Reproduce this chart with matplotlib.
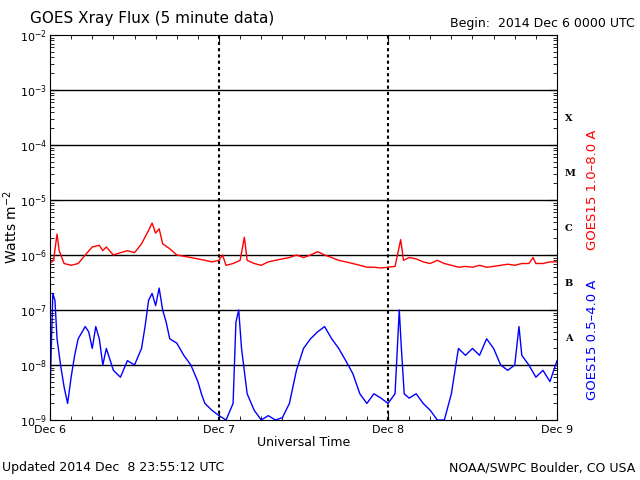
import matplotlib
matplotlib.use("Agg")
import matplotlib.pyplot as plt
from matplotlib.ticker import LogLocator, NullFormatter, MultipleLocator

# hours since 2014 Dec 6 00:00 UTC
long_t = [0,0.5,1,1.3,2,3,4,5,6,7,7.5,8,9,10,11,12,13,14,14.5,15,15.5,16,17,18,19,20,21,22,23,24,24.5,25,26,27,27.6,28,29,30,31,32,33,34,35,36,37,38,39,40,41,42,43,44,45,46,47,48,49,49.8,50.2,51,52,53,54,55,56,57,58,59,60,61,62,63,64,65,66,67,68,68.6,69,70,71,72]
long_v = [7e-7,8e-7,2.4e-6,1.2e-6,7e-7,6.5e-7,7e-7,1e-6,1.4e-6,1.5e-6,1.2e-6,1.4e-6,1e-6,1.1e-6,1.2e-6,1.1e-6,1.6e-6,2.8e-6,3.8e-6,2.5e-6,3e-6,1.6e-6,1.3e-6,1e-6,9.5e-7,9e-7,8.5e-7,8e-7,7.5e-7,8e-7,1e-6,6.5e-7,7e-7,8e-7,2.1e-6,8e-7,7e-7,6.5e-7,7.5e-7,8e-7,8.5e-7,9e-7,1e-6,9e-7,1e-6,1.15e-6,1e-6,9e-7,8e-7,7.5e-7,7e-7,6.5e-7,6e-7,6e-7,5.8e-7,6e-7,6.2e-7,1.9e-6,8e-7,9e-7,8.5e-7,7.5e-7,7e-7,8e-7,7e-7,6.5e-7,6e-7,6.2e-7,6e-7,6.5e-7,6e-7,6.2e-7,6.5e-7,6.8e-7,6.5e-7,7e-7,7e-7,9e-7,7e-7,7e-7,7.5e-7,7.5e-7]

short_t = [0,0.4,0.7,1,1.5,2,2.5,3,3.5,4,5,5.5,6,6.5,7,7.5,8,9,10,11,12,13,13.5,14,14.5,15,15.5,16,16.5,17,18,19,20,21,21.5,22,23,24,25,26,26.4,26.8,27.2,28,29,30,31,32,33,34,35,36,37,38,39,40,41,42,43,44,45,46,47,48,49,49.6,49.9,50.3,51,52,53,54,55,56,57,58,59,60,61,62,63,64,65,66,66.6,67,68,69,70,71,72]
short_v = [3e-9,2e-7,1.5e-7,3e-8,1e-8,4e-9,2e-9,6e-9,1.5e-8,3e-8,5e-8,4e-8,2e-8,5e-8,3e-8,1e-8,2e-8,8e-9,6e-9,1.2e-8,1e-8,2e-8,5e-8,1.5e-7,2e-7,1.2e-7,2.5e-7,1e-7,6e-8,3e-8,2.5e-8,1.5e-8,1e-8,5e-9,3e-9,2e-9,1.5e-9,1.2e-9,1e-9,2e-9,6e-8,1e-7,2e-8,3e-9,1.5e-9,1e-9,1.2e-9,1e-9,1.1e-9,2e-9,8e-9,2e-8,3e-8,4e-8,5e-8,3e-8,2e-8,1.2e-8,7e-9,3e-9,2e-9,3e-9,2.5e-9,2e-9,3e-9,1e-7,2e-8,3e-9,2.5e-9,3e-9,2e-9,1.5e-9,1e-9,1e-9,3e-9,2e-8,1.5e-8,2e-8,1.5e-8,3e-8,2e-8,1e-8,8e-9,1e-8,5e-8,1.5e-8,1e-8,6e-9,8e-9,5e-9,1.2e-8]

xtick_pos = [0, 24, 48, 72]
xtick_lab = ["Dec 6", "Dec 7", "Dec 8", "Dec 9"]
class_lab = ["A", "B", "C", "M", "X"]
class_pos = [3e-8, 3e-7, 3e-6, 3e-5, 3e-4]

fig = plt.figure(figsize=(6.4, 4.8), dpi=100)
ax = fig.add_axes([50/640, 60/480, 507/640, 385/480])
ax.set_yscale("log")
ax.set_ylim(1e-9, 1e-2)
ax.set_xlim(0, 72)

for d in range(-8, -2):
    ax.axhline(10.0**d, color="black", lw=1)
for x in [24, 48]:
    ax.axvline(x, color="black", lw=1.5, ls=(0, (1.5, 1.5)))

ax.plot(long_t, long_v, color="red", lw=1)
ax.plot(short_t, short_v, color="blue", lw=1)

ax.set_xticks(xtick_pos)
ax.set_xticklabels(xtick_lab, fontsize=8)
ax.xaxis.set_minor_locator(MultipleLocator(3))
ax.yaxis.set_major_locator(LogLocator(base=10, numticks=20))
ax.yaxis.set_minor_locator(LogLocator(base=10, subs=range(2, 10), numticks=20))
ax.yaxis.set_minor_formatter(NullFormatter())
ax.tick_params(axis="both", which="both", direction="in", top=True, right=True)
ax.tick_params(which="major", length=6)
ax.tick_params(which="minor", length=3)
ax.tick_params(axis="y", labelsize=8, pad=2)
ax.set_xlabel("Universal Time", fontsize=9, labelpad=1)
ax.set_ylabel("Watts m$^{-2}$", fontsize=10, labelpad=0)

for lab, pos in zip(class_lab, class_pos):
    ax.text(1.015, pos, lab, transform=ax.get_yaxis_transform(), fontsize=7,
            family="DejaVu Serif", fontweight="bold", va="center", ha="left")

fig.text(0.925, 1 - 190/480, "GOES15 1.0\u20138.0 A", color="red", rotation=90,
         fontsize=9.5, ha="center", va="center")
fig.text(0.925, 1 - 340/480, "GOES15 0.5\u20134.0 A", color="blue", rotation=90,
         fontsize=9.5, ha="center", va="center")

fig.text(30/640, 1 - 18/480, "GOES Xray Flux (5 minute data)", fontsize=11, va="center")
fig.text(0.992, 1 - 24/480, "Begin:  2014 Dec 6 0000 UTC", fontsize=9, ha="right", va="center")
fig.text(0.003, 1 - 468/480, "Updated 2014 Dec  8 23:55:12 UTC", fontsize=9, va="center")
fig.text(0.992, 1 - 468/480, "NOAA/SWPC Boulder, CO USA", fontsize=9, ha="right", va="center")

fig.savefig("out.png", dpi=100)
